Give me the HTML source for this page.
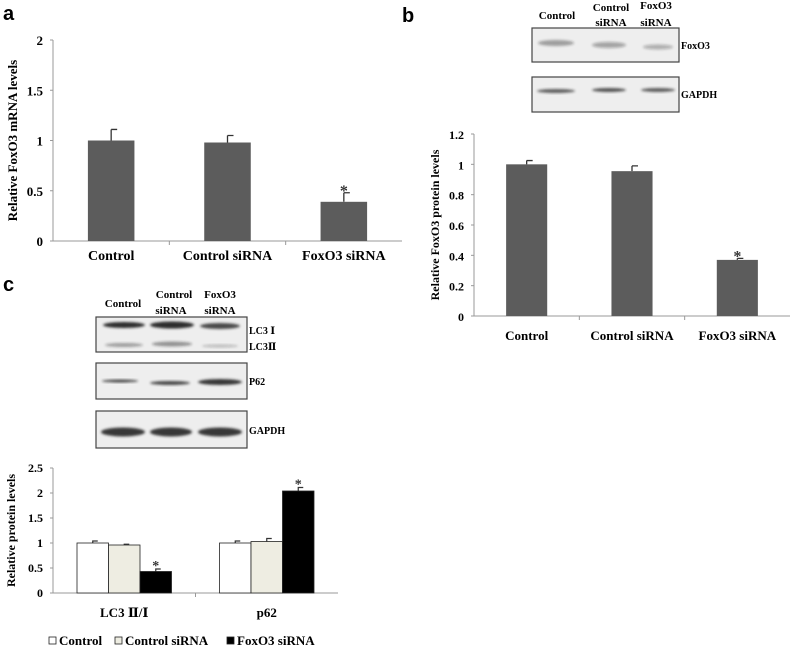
<!DOCTYPE html>
<html><head><meta charset="utf-8"><style>
body{margin:0;background:#fff;}
svg{display:block;}
svg text{font-family:"Liberation Serif","DejaVu Serif",serif;font-weight:bold;}
svg text.sans{font-family:"Liberation Sans",sans-serif;}
</style></head><body>
<svg id="s" width="794" height="649" viewBox="0 0 794 649">
<defs><filter id="blur" x="-20%" y="-50%" width="140%" height="200%"><feGaussianBlur stdDeviation="1.2"/></filter></defs>
<text class="sans" x="3" y="20" font-size="20">a</text>
<text class="sans" x="402" y="22" font-size="20">b</text>
<text class="sans" x="3" y="291" font-size="20">c</text>
<g id="blots"></g>
<g id="ga"></g><g id="gb"></g><g id="gc"></g>
</svg>
<script>
const catsA=["Control","Control siRNA","FoxO3 siRNA"];
const valsA=[1.0,0.98,0.39];
const errA=[0.11,0.07,0.09];
const ticksA=[0,0.5,1,1.5,2];
const catsB=["Control","Control siRNA","FoxO3 siRNA"];
const valsB=[1.0,0.955,0.37];
const errB=[0.025,0.035,0.01];
const ticksB=[0,0.2,0.4,0.6,0.8,1,1.2];
const groupsC=["LC3 Ⅱ/Ⅰ","p62"];
const seriesC=["Control","Control siRNA","FoxO3 siRNA"];
const valsC=[[1.0,0.96,0.43],[1.0,1.03,2.04]];
const errC=[[0.04,0.015,0.05],[0.04,0.06,0.07]];
const ticksC=[0,0.5,1,1.5,2,2.5];
const NS="http://www.w3.org/2000/svg";
function el(p,t,a,txt){const e=document.createElementNS(NS,t);for(const k in a)e.setAttribute(k,a[k]);if(txt!==undefined)e.textContent=txt;p.appendChild(e);return e;}

function simpleChart(g,cats,vals,errs,ticks,o){
  const ymax=ticks[ticks.length-1];
  const y=v=>o.y0-(v/ymax)*(o.y0-o.yTop);
  const n=cats.length,w=(o.x1-o.x0)/n;
  const ax=el(g,'line',{x1:o.x0,y1:o.yTop,x2:o.x0,y2:o.y0,stroke:'#999'});
  
  const bx=el(g,'line',{x1:o.x0,y1:o.y0,x2:o.x1,y2:o.y0,stroke:'#999'});
  
  ticks.forEach(t=>{
    el(g,'line',{x1:o.x0-3,x2:o.x0,y1:y(t),y2:y(t),stroke:'#999'});
    const tl=el(g,'text',{x:o.x0-10,y:y(t)+5,'text-anchor':'end','font-size':o.fs},String(t));
    
  });
  for(let i=1;i<n;i++)el(g,'line',{x1:o.x0+i*w,x2:o.x0+i*w,y1:o.y0,y2:o.y0+4,stroke:'#999'});
  cats.forEach((c,i)=>{
    const cx=o.x0+w*(i+0.5),bw=w*o.bf;
    const top=y(vals[i]+errs[i]);
    const eb=el(g,'path',{d:`M${cx} ${y(vals[i])}V${top}M${cx} ${top}H${cx+6}`,stroke:'#333','stroke-width':1.3,fill:'none'});
    
    const r=el(g,'rect',{x:cx-bw/2,y:y(vals[i]),width:bw,height:o.y0-y(vals[i]),fill:'#5c5c5c'});
    
    const l=el(g,'text',{x:cx,y:o.labY,'text-anchor':'middle','font-size':o.fs+1},c);
    
    if(i==n-1){const s=el(g,'text',{x:cx,y:top+3,'text-anchor':'middle','font-size':16,fill:'#333'},'*');
      }
  });
  const yl=el(g,'text',{transform:`translate(${o.ylx},${(o.yTop+o.y0)/2}) rotate(-90)`,'text-anchor':'middle','font-size':o.fs},o.ylabel);
  
}
simpleChart(document.getElementById('ga'),catsA,valsA,errA,ticksA,{x0:53,x1:402,y0:241,yTop:40,bf:0.4,fs:13,labY:260,ylx:17,ylabel:"Relative FoxO3 mRNA levels"});
simpleChart(document.getElementById('gb'),catsB,valsB,errB,ticksB,{x0:474,x1:790,y0:316,yTop:134,bf:0.39,fs:12,labY:340,ylx:439,ylabel:"Relative FoxO3 protein levels"});

(function(){
  const g=document.getElementById('gc');
  const x0=53,x1=338,y0=593,yTop=468,ymax=ticksC[ticksC.length-1];
  const y=v=>y0-(v/ymax)*(y0-yTop);
  const fills=['#fff','#eeede2','#000'];
  const ax=el(g,'line',{x1:x0,y1:yTop,x2:x0,y2:y0,stroke:'#999'});
  
  const bx=el(g,'line',{x1:x0,y1:y0,x2:x1,y2:y0,stroke:'#999'});
  
  ticksC.forEach(t=>{el(g,'line',{x1:x0-3,x2:x0,y1:y(t),y2:y(t),stroke:'#999'});
    const tl=el(g,'text',{x:x0-10,y:y(t)+4,'text-anchor':'end','font-size':12},String(t));
    });
  const gw=(x1-x0)/groupsC.length,bw=31.5;
  el(g,'line',{x1:x0+gw,x2:x0+gw,y1:y0,y2:y0+4,stroke:'#999'});
  groupsC.forEach((gn,gi)=>{
    const cx=x0+gw*(gi+0.5);
    valsC[gi].forEach((v,si)=>{
      const bx0=cx-1.5*bw+si*bw,bc=bx0+bw/2,top=y(v+errC[gi][si]);
      const eb=el(g,'path',{d:`M${bc} ${y(v)}V${top}H${bc+5}`,stroke:'#333','stroke-width':1.2,fill:'none'});
      
      const r=el(g,'rect',{x:bx0,y:y(v),width:bw,height:y0-y(v),fill:fills[si],stroke:'#222','stroke-width':0.8});
      
      if(si==2){const s=el(g,'text',{x:bc,y:top+1,'text-anchor':'middle','font-size':14,fill:'#333'},'*');
        }
    });
    const l=el(g,'text',{x:cx,y:617,'text-anchor':'middle','font-size':13},gn);
    
  });
  const yl=el(g,'text',{transform:`translate(${15},${(yTop+y0)/2}) rotate(-90)`,'text-anchor':'middle','font-size':12},"Relative protein levels");
  
  const lx=[49,115,227];
  seriesC.forEach((s,i)=>{
    const r=el(g,'rect',{x:lx[i],y:637,width:7,height:7,fill:fills[i],stroke:'#222','stroke-width':0.8});
    
    const t=el(g,'text',{x:lx[i]+10,y:645,'font-size':13},s);
    
  });
})();

(function(){
  const g=document.getElementById('blots');
  function box(x,y,w,h,name){const r=el(g,'rect',{x,y,width:w,height:h,fill:'#eeeeee',stroke:'#444','stroke-width':1.2});
    }
  function band(cx,cy,w,h,op){el(g,'ellipse',{cx,cy,rx:w/2,ry:h/2,fill:'#222','fill-opacity':op,filter:'url(#blur)'});}
  function txt(x,y,s,fs,name,anchor){const t=el(g,'text',{x,y,'font-size':fs,'text-anchor':anchor||'start'},s);
    }
  box(532,28,147,34,'foxo3-blot');box(532,77,147,35,'gapdh-blot-b');
  band(556,43,36,6,0.4);band(609,45,34,6,0.35);band(658,47,30,5,0.3);
  band(556,91,38,4,0.7);band(609,90,34,4,0.75);band(658,90,34,4,0.7);
  txt(557,19,"Control",11,'lane-label-control','middle');
  txt(611,11,"Control",11,'lane-label-control-sirna','middle');txt(611,26,"siRNA",11,'lane-label-control-sirna','middle');
  txt(656,9,"FoxO3",11,'lane-label-foxo3-sirna','middle');txt(656,26,"siRNA",11,'lane-label-foxo3-sirna','middle');
  txt(681,49,"FoxO3",10,'foxo3-band-label');txt(681,98,"GAPDH",10,'gapdh-band-label');
  box(96,317,151,35,'lc3-blot');box(96,363,151,36,'p62-blot');box(96,411,151,37,'gapdh-blot-c');
  band(124,325,42,6,0.95);band(172,325,44,7,0.95);band(220,326,40,6,0.8);
  band(124,345,38,4,0.4);band(172,344,40,5,0.45);band(220,346,36,3,0.25);
  band(120,381,36,3,0.8);band(170,383,40,4,0.8);band(220,382,44,6,0.9);
  band(123,432,44,9,0.9);band(171,432,42,9,0.9);band(220,432,44,9,0.9);
  txt(123,307,"Control",11,'lane-label-control','middle');
  txt(174,298,"Control",11,'lane-label-control-sirna','middle');txt(171,314,"siRNA",11,'lane-label-control-sirna','middle');
  txt(220,298,"FoxO3",11,'lane-label-foxo3-sirna','middle');txt(220,314,"siRNA",11,'lane-label-foxo3-sirna','middle');
  txt(249,334,"LC3  Ⅰ",10,'lc3-i-label');txt(249,350,"LC3Ⅱ",10,'lc3-ii-label');
  txt(249,385,"P62",10,'p62-band-label');txt(249,434,"GAPDH",10,'gapdh-band-label');
})();
</script>
</body></html>
